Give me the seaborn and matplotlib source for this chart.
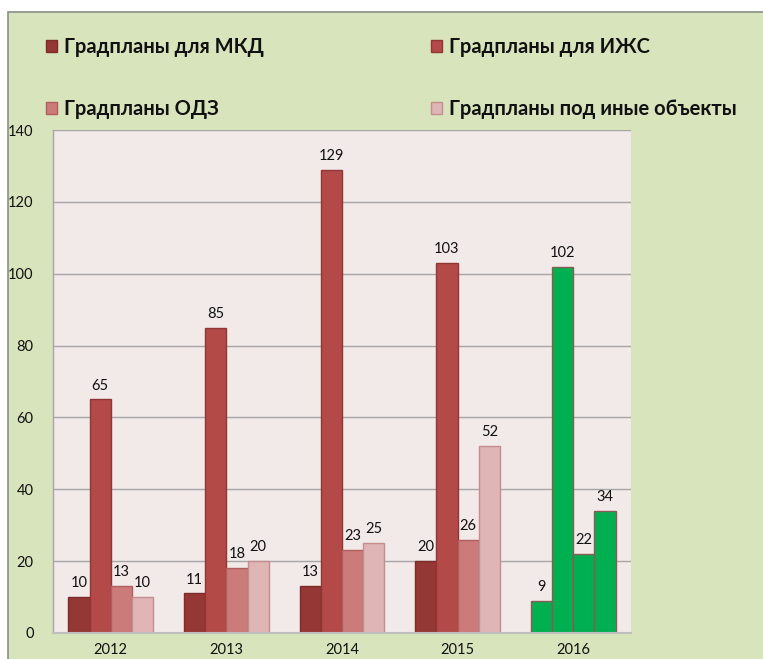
import matplotlib
matplotlib.use("Agg")
import matplotlib.pyplot as plt
import seaborn as sns
import pandas as pd
from matplotlib.patches import Rectangle, Patch

years = ["2012", "2013", "2014", "2015", "2016"]
series = ["Градпланы для МКД", "Градпланы для ИЖС", "Градпланы ОДЗ", "Градпланы под иные объекты"]
mkd = [10, 11, 13, 20, 9]
izhs = [65, 85, 129, 103, 102]
odz = [13, 18, 23, 26, 22]
other = [10, 20, 25, 52, 34]
colors = ["#953735", "#B34A48", "#CC7B7B", "#E0B5B5"]
edges = ["#7E2C2A", "#923634", "#B25E5E", "#C58D8D"]
highlight_year = "2016"
highlight_color = "#00B050"

rows = []
for s, vals in zip(series, [mkd, izhs, odz, other]):
    for y, v in zip(years, vals):
        rows.append({"year": y, "series": s, "value": v})
df = pd.DataFrame(rows)

sns.set_theme(style="white")
plt.rcParams["font.family"] = ["Lato", "DejaVu Sans"]

W, H = 763, 659
fig = plt.figure(figsize=(W / 100, H / 100), dpi=100, facecolor="white")
fig.patches.append(Rectangle((8 / W, -0.01), 1.02, 1 - 12 / H + 0.01, transform=fig.transFigure,
                             facecolor="#D8E4BC", edgecolor="#8C8C8C", lw=1.2, zorder=-10))

ax = fig.add_axes([53 / W, 1 - 633 / H, (631 - 53) / W, (633 - 130) / H])
sns.barplot(data=df, x="year", y="value", hue="series", hue_order=series, order=years,
            palette=colors, width=0.735, gap=0, saturation=1, legend=False, ax=ax, errorbar=None)

hi = years.index(highlight_year)
for cont, ec in zip(ax.containers, edges):
    for i, bar in enumerate(cont):
        bar.set_edgecolor(ec)
        bar.set_linewidth(1.0)
        if i == hi:
            bar.set_facecolor(highlight_color)
            bar.set_edgecolor("#8A5A50")
    ax.bar_label(cont, padding=5, fontsize=10.5, color="#111111")

ax.set_facecolor("#F2E9E9")
ax.set_ylim(0, 140)
ax.set_yticks(range(0, 141, 20))
ax.set_xlim(-0.5, len(years) - 0.5)
ax.yaxis.grid(True, color="#A6A6A6", lw=1)
ax.set_axisbelow(True)
ax.set_xlabel("")
ax.set_ylabel("")
for sp in ["top", "right"]:
    ax.spines[sp].set_visible(False)
ax.spines["left"].set_color("#A6A6A6")
ax.spines["bottom"].set_color("#BFBFBF")
ax.spines["left"].set_linewidth(1)
ax.spines["bottom"].set_linewidth(1.5)
ax.tick_params(axis="y", length=0, pad=14, labelsize=10.5, labelcolor="#111111")
ax.tick_params(axis="x", length=0, pad=7, labelsize=10.5, labelcolor="#111111")

handles = [Patch(facecolor=c, edgecolor=e) for c, e in zip(colors, edges)]
order = [0, 2, 1, 3]
fig.legend([handles[i] for i in order], [series[i] for i in order], ncol=2, loc="upper left",
           bbox_to_anchor=(38 / W, 1 - 29 / H), frameon=False,
           prop=dict(weight="bold", size=14.5), handlelength=0.55, handleheight=0.55,
           handletextpad=0.35, labelspacing=2.1, columnspacing=8.3, borderaxespad=0,
           labelcolor="#111111")

fig.savefig("out.png", dpi=100, facecolor=fig.get_facecolor())
